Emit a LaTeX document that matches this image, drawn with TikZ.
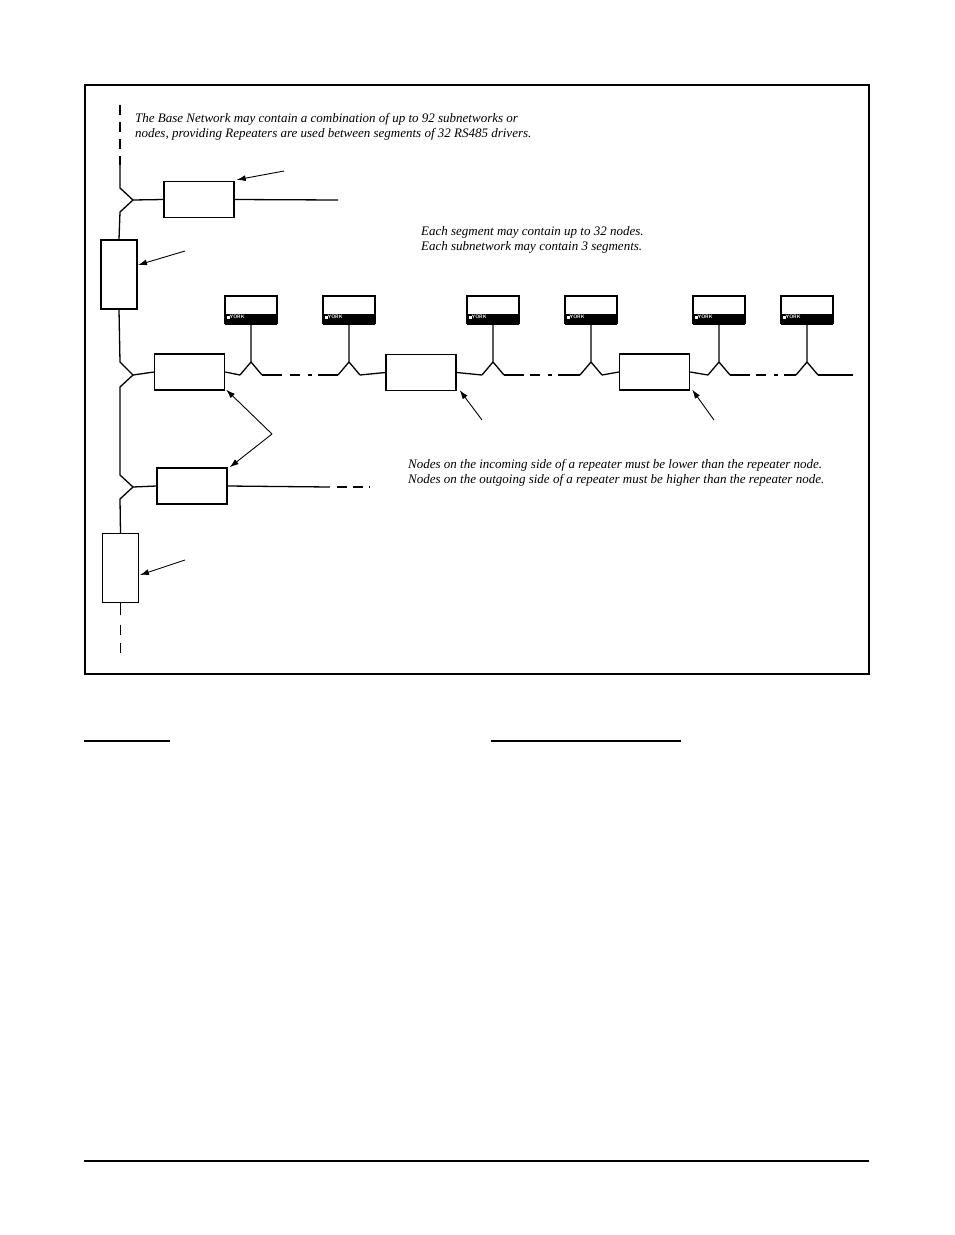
\documentclass[tikz,border=0pt]{standalone}
\usepackage{fontspec}
\setmainfont{Liberation Serif}
\usepackage{tikz}
\usetikzlibrary{positioning,arrows.meta}
\tikzset{
  box/.style={draw,line width=1.4pt,minimum width=70pt,minimum height=36pt,inner sep=0pt},
  tallbox/.style={draw,line width=1.4pt,minimum width=36pt,minimum height=69pt,inner sep=0pt},
  york/.style={draw,line width=1.2pt,minimum width=52pt,minimum height=27pt,inner sep=0pt},
  bus/.style={line width=1.3pt},
  pointer/.style={line width=0.9pt,-{Latex[length=9pt,width=6pt]}},
  note/.style={font=\fontsize{13}{15.5}\selectfont\itshape,anchor=north west,inner sep=0pt,align=left}
}
\newcommand{\yorknode}[2]{%
  \node[york] (#1) at (#2,309.5) {};
  \fill ([shift={(1pt,-1.5pt)}]#1.south west) rectangle ([shift={(-1pt,10pt)}]#1.south east);
  \node[anchor=west,text=white,inner sep=0pt,font=\sffamily\bfseries\fontsize{5}{5}\selectfont] at ([shift={(2pt,6.5pt)}]#1.south west) {\rule{3pt}{3pt}YORK};
  \draw[bus] (#1.south) -- (#2,362) -- (#2-11,375);
  \draw[bus] (#2,362) -- (#2+11,375);
}
\begin{document}
\begin{tikzpicture}[x=1pt,y=-1pt]
\useasboundingbox (0,0) rectangle (954,1235);
% frame
\draw[line width=1.5pt] (85,85) rectangle (869,674);
% texts
\node[note] (tbase) at (135,113) {The Base Network may contain a combination of up to 92 subnetworks or\\nodes, providing Repeaters are used between segments of 32 RS485 drivers.};
\node[note] (tseg) at (421,226) {Each segment may contain up to 32 nodes.\\Each subnetwork may contain 3 segments.};
\node[note] (trep) at (408,459) {Nodes on the incoming side of a repeater must be lower than the repeater node.\\Nodes on the outgoing side of a repeater must be higher than the repeater node.};
% boxes
\node[box] (b1) at (199,199.5) {};
\node[tallbox] (r1) at (119,274.5) {};
\node[box] (b2) at (189.5,372) {};
\node[box] (b3) at (421,372.5) {};
\node[box] (b4) at (654.5,372) {};
\node[box] (b5) at (192,486) {};
\node[tallbox] (r2) at (120.5,568) {};
% main bus
\draw[bus,dashed,dash pattern=on 10pt off 7pt] (120,105) -- (120,165);
\draw[bus] (120,165) -- (120,188) -- (133,200) -- (120,212) -- (r1.north);
\draw[bus] (133,200) -- (b1.west);
\draw[bus] (b1.east) -- (338,200);
\draw[bus] (r1.south) -- (120,362) -- (133,375) -- (120,387) -- (120,475) -- (133,487) -- (120,499) -- (r2.north);
\draw[bus] (133,375) -- (b2.west);
\draw[bus] (133,487) -- (b5.west);
\draw[bus] (b5.east) -- (330,487);
\draw[bus,dashed,dash pattern=on 10pt off 6pt] (337,487) -- (370,487);
\draw[bus] (r2.south) -- (120.5,615);
\draw[bus,dashed,dash pattern=on 10pt off 8pt] (120.5,625) -- (120.5,655);
% segments
\foreach \nm/\xx in {y1/251,y2/349,y3/493,y4/591,y5/719,y6/807} {\yorknode{\nm}{\xx}}
\draw[bus] (b2.east) -- (240,375);
\draw[bus] (262,375) -- (282,375);
\draw[bus,dashed,dash pattern=on 10pt off 8pt] (290,375) -- (312,375);
\draw[bus] (318,375) -- (338,375);
\draw[bus] (360,375) -- (b3.west);
\draw[bus] (b3.east) -- (482,375);
\draw[bus] (504,375) -- (524,375);
\draw[bus,dashed,dash pattern=on 10pt off 8pt] (530,375) -- (552,375);
\draw[bus] (558,375) -- (580,375);
\draw[bus] (602,375) -- (b4.west);
\draw[bus] (b4.east) -- (708,375);
\draw[bus] (730,375) -- (750,375);
\draw[bus,dashed,dash pattern=on 10pt off 8pt] (756,375) -- (778,375);
\draw[bus] (784,375) -- (796,375);
\draw[bus] (818,375) -- (853,375);
% pointers
\draw[pointer] (284,171) -- ([shift={(2pt,1pt)}]b1.north east);
\draw[pointer] (185,251) -- (138,265);
\coordinate (vtx) at (272,434);
\draw[pointer] (vtx) -- ([shift={(1pt,1pt)}]b2.south east);
\draw[pointer] (vtx) -- ([shift={(2pt,0pt)}]b5.north east);
\draw[pointer] (185,560) -- (140,575);
\draw[pointer] (482,420) -- ([shift={(3pt,1pt)}]b3.south east);
\draw[pointer] (714,420) -- ([shift={(2pt,1pt)}]b4.south east);
% page rules
\draw[line width=1.3pt] (84,741) -- (170,741);
\draw[line width=1.3pt] (491,741) -- (681,741);
\draw[line width=1.5pt] (84,1161) -- (869,1161);
\end{tikzpicture}
\end{document}
